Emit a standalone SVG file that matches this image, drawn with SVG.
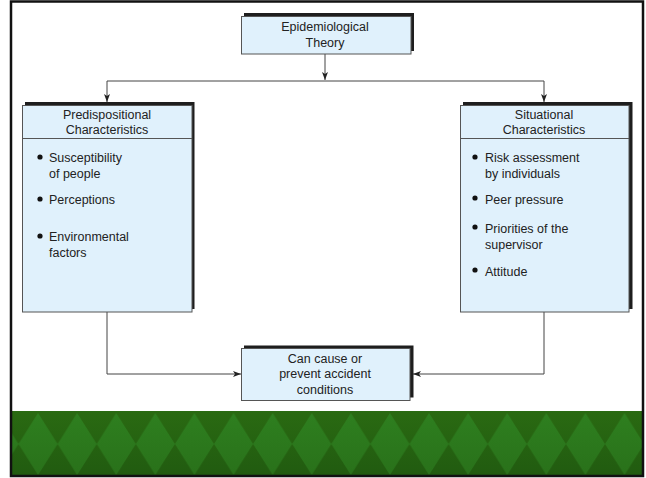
<svg xmlns="http://www.w3.org/2000/svg" width="646" height="478" viewBox="0 0 646 478">
  <defs>
    <style>
      .box { fill: #e0f1fc; stroke: #555; stroke-width: 1; }
      .shadow { fill: #1e1e1e; }
      .rule { stroke: #555; stroke-width: 1; }
      .t { font-family: "Liberation Sans", Arial, sans-serif; font-size: 12.5px; fill: #222; }
      .c { text-anchor: middle; }
      .dot { fill: #111; }
      .wire { fill: none; stroke: #444; stroke-width: 1; }
    </style>
    <marker id="arrow" viewBox="0 0 8 6" refX="8" refY="3" markerWidth="8" markerHeight="6" markerUnits="userSpaceOnUse" orient="auto">
      <path d="M0,0 L8,3 L0,6 L2,3 Z" fill="#222"/>
    </marker>
    <linearGradient id="band" x1="0" y1="0" x2="0" y2="1">
      <stop offset="0" stop-color="#2a6a12"/>
      <stop offset="1" stop-color="#215b10"/>
    </linearGradient>
    <linearGradient id="gem" x1="0" y1="0" x2="0" y2="1">
      <stop offset="0" stop-color="#2e7f1f"/>
      <stop offset="1" stop-color="#29711a"/>
    </linearGradient>
    <pattern id="diamonds" x="18.5" y="412" width="39.1" height="64" patternUnits="userSpaceOnUse">
      <path d="M19.55,1 L39.1,32 L19.55,63 L0,32 Z" fill="url(#gem)"/>
    </pattern>
  </defs>

  <!-- page -->
  <rect x="0" y="0" width="646" height="478" fill="#fff"/>

  <!-- footer band -->
  <rect x="12" y="411" width="630" height="64" fill="url(#band)"/>
  <rect x="12" y="411" width="630" height="64" fill="url(#diamonds)"/>

  <!-- frame -->
  <rect x="11" y="1.5" width="632" height="474.5" fill="none" stroke="#111" stroke-width="2.5"/>

  <!-- connectors -->
  <g id="connectors">
    <path class="wire" d="M325,54 V80" marker-end="url(#arrow)"/>
    <path class="wire" d="M107,81 H544"/>
    <path class="wire" d="M107,81 V102" marker-end="url(#arrow)"/>
    <path class="wire" d="M544,81 V102" marker-end="url(#arrow)"/>
    <path class="wire" d="M107,312 V374 H241" marker-end="url(#arrow)"/>
    <path class="wire" d="M544,312 V374 H413" marker-end="url(#arrow)"/>
  </g>

  <!-- top node -->
  <g id="theory">
    <rect class="shadow" x="244" y="13" width="170" height="38"/>
    <rect class="box" x="241.5" y="16.5" width="169.5" height="37.5"/>
    <text class="t c" x="325" y="31">Epidemiological</text>
    <text class="t c" x="325" y="47">Theory</text>
  </g>

  <!-- left node -->
  <g id="predispositional">
    <rect class="shadow" x="25" y="102" width="169.5" height="207"/>
    <rect class="box" x="22.5" y="105.5" width="169.5" height="206.5"/>
    <line class="rule" x1="22.5" y1="138.5" x2="192" y2="138.5"/>
    <text class="t c" x="107" y="119">Predispositional</text>
    <text class="t c" x="107" y="134">Characteristics</text>
    <circle class="dot" cx="40" cy="157" r="2.6"/>
    <text class="t" x="49" y="162">Susceptibility</text>
    <text class="t" x="49" y="178">of people</text>
    <circle class="dot" cx="40" cy="199" r="2.6"/>
    <text class="t" x="49" y="204">Perceptions</text>
    <circle class="dot" cx="40" cy="236" r="2.6"/>
    <text class="t" x="49" y="241">Environmental</text>
    <text class="t" x="49" y="257">factors</text>
  </g>

  <!-- right node -->
  <g id="situational">
    <rect class="shadow" x="463" y="102" width="169.5" height="207"/>
    <rect class="box" x="460.5" y="105.5" width="168.5" height="206.5"/>
    <line class="rule" x1="460.5" y1="138.5" x2="629" y2="138.5"/>
    <text class="t c" x="544" y="119">Situational</text>
    <text class="t c" x="544" y="134">Characteristics</text>
    <circle class="dot" cx="475" cy="157" r="2.6"/>
    <text class="t" x="485" y="162">Risk assessment</text>
    <text class="t" x="485" y="178">by individuals</text>
    <circle class="dot" cx="475" cy="198" r="2.6"/>
    <text class="t" x="485" y="204">Peer pressure</text>
    <circle class="dot" cx="475" cy="227" r="2.6"/>
    <text class="t" x="485" y="233">Priorities of the</text>
    <text class="t" x="485" y="249">supervisor</text>
    <circle class="dot" cx="475" cy="270" r="2.6"/>
    <text class="t" x="485" y="276">Attitude</text>
  </g>

  <!-- bottom node -->
  <g id="outcome">
    <rect class="shadow" x="244" y="345.5" width="169.5" height="52"/>
    <rect class="box" x="241.5" y="348.5" width="168.5" height="52"/>
    <text class="t c" x="325" y="363">Can cause or</text>
    <text class="t c" x="325" y="378">prevent accident</text>
    <text class="t c" x="325" y="394">conditions</text>
  </g>
</svg>
